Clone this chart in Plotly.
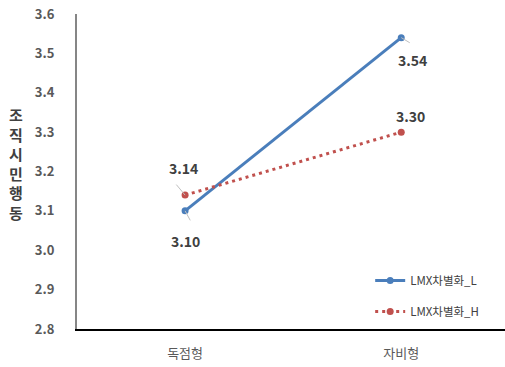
import plotly.graph_objects as go

categories = ["독점형", "자비형"]
series_names = ["LMX차별화_L", "LMX차별화_H"]
values_L = [3.10, 3.54]
values_H = [3.14, 3.30]
y_ticks = [2.8, 2.9, 3.0, 3.1, 3.2, 3.3, 3.4, 3.5, 3.6]

blue = "#4A7EBB"
red = "#C0504D"
label_color = "#404040"
font_family = "Noto Sans CJK KR"

fig = go.Figure()
fig.add_trace(go.Scatter(
    x=categories, y=values_L, name=series_names[0], mode="lines+markers",
    line=dict(color=blue, width=3), marker=dict(color=blue, size=7),
    legendgroup="a",
))
fig.add_trace(go.Scatter(
    x=categories, y=values_H, name=series_names[1], mode="lines+markers",
    line=dict(color=red, width=3, dash="3px,4px"), marker=dict(color=red, size=7),
    legendgroup="b",
))

# value labels: (series values, index, text offset x, text offset y, leader end x, leader end y)
label_specs = [
    (values_L, 0, 0, 30, 6, 11),
    (values_H, 0, -2, -27, -10, -12),
    (values_L, 1, 11, 22, 10, 6),
    (values_H, 1, 9, -16, None, None),
]
for vals, i, dx, dy, lx, ly in label_specs:
    fig.add_annotation(
        x=categories[i], y=vals[i], text=f"{vals[i]:.2f}", showarrow=False,
        xshift=dx, yshift=-dy,
        font=dict(family=font_family, size=14, color=label_color, weight="bold"),
    )
    if lx is not None:
        fig.add_annotation(
            x=categories[i], y=vals[i], text="", showarrow=True,
            arrowhead=0, arrowwidth=1, arrowcolor="#BFBFBF",
            ax=lx, ay=ly, standoff=0,
        )

# vertical axis title, one character per line
fig.add_annotation(
    xref="paper", yref="paper", x=-0.143, y=0.525, xanchor="center", yanchor="middle",
    text="<br>".join(list("조직시민행동")), showarrow=False,
    font=dict(family=font_family, size=15, color=label_color, weight="bold"),
)

fig.update_layout(
    width=505, height=367,
    margin=dict(l=77, r=0, t=14, b=38),
    plot_bgcolor="white", paper_bgcolor="white",
    font=dict(family=font_family, color="#595959"),
    showlegend=True,
    legend=dict(
        x=0.685, y=0.2, xanchor="left", yanchor="top",
        font=dict(family=font_family, size=11.5, color=label_color),
        tracegroupgap=12, bgcolor="rgba(0,0,0,0)",
    ),
    xaxis=dict(
        type="category", range=[-0.5, 1.48],
        showgrid=False, showline=True, linecolor="#000000", linewidth=1.5,
        ticks="", ticklabelstandoff=12,
        tickfont=dict(family=font_family, size=13, color="#595959"),
    ),
    yaxis=dict(
        range=[2.8, 3.6], tickvals=y_ticks, tickformat=".1f",
        showgrid=False, zeroline=False, showline=True, linecolor="#868686", linewidth=2,
        ticks="", ticklabelstandoff=18,
        tickfont=dict(family=font_family, size=13, color="#595959", weight="bold"),
    ),
)

fig.write_html("out.html")
